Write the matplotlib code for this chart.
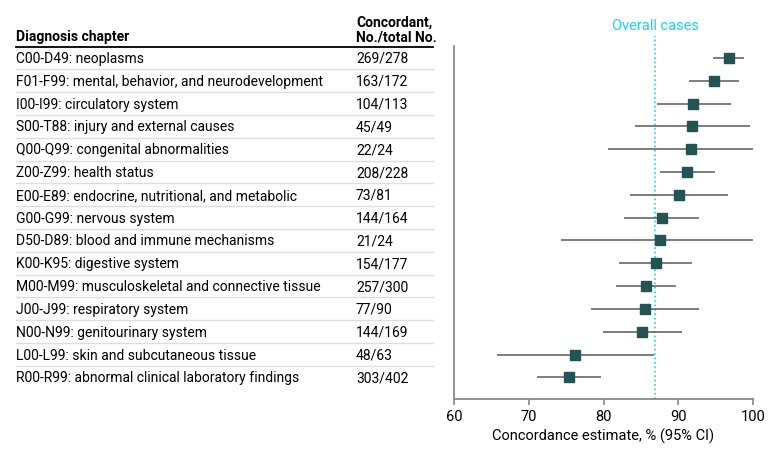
import numpy as np
import matplotlib.pyplot as plt
from matplotlib.transforms import blended_transform_factory

plt.rcParams['font.family'] = ['Roboto', 'DejaVu Sans']

chapters = ['C00-D49: neoplasms',
            'F01-F99: mental, behavior, and neurodevelopment',
            'I00-I99: circulatory system',
            'S00-T88: injury and external causes',
            'Q00-Q99: congenital abnormalities',
            'Z00-Z99: health status',
            'E00-E89: endocrine, nutritional, and metabolic',
            'G00-G99: nervous system',
            'D50-D89: blood and immune mechanisms',
            'K00-K95: digestive system',
            'M00-M99: musculoskeletal and connective tissue',
            'J00-J99: respiratory system',
            'N00-N99: genitourinary system',
            'L00-L99: skin and subcutaneous tissue',
            'R00-R99: abnormal clinical laboratory findings']
concordant = [269, 163, 104, 45, 22, 208, 73, 144, 21, 154, 257, 77, 144, 48, 303]
total = [278, 172, 113, 49, 24, 228, 81, 164, 24, 177, 300, 90, 169, 63, 402]
ci_low = [94.7, 91.5, 87.1, 84.2, 80.6, 87.6, 83.6, 82.8, 74.3, 82.1, 81.7, 78.3, 79.9, 65.7, 71.1]
ci_high = [98.8, 98.1, 97.0, 99.6, 100.0, 94.9, 96.6, 92.8, 100.0, 91.9, 89.7, 92.8, 90.5, 86.7, 79.6]
overall = 86.9

est = 100 * np.array(concordant) / np.array(total)
y = np.arange(len(chapters))

fig = plt.figure(figsize=(7.8, 4.52), dpi=100)
ax = fig.add_axes([454/780, 1-400/452, 299/780, 353/452])

# CI lines + square estimates
ax.hlines(y, ci_low, ci_high, color='#5a5a5a', lw=1.1, zorder=2)
ax.plot(est, y, 's', color='#245354', ms=7, zorder=3)

# overall reference line
ax.plot([overall, overall], [14.95, -0.97], ls=':', color='#19d3e6', lw=1.2, clip_on=False, zorder=1)
ax.text(overall, -1.43, 'Overall cases', color='#19d3e6', ha='center', va='center', fontsize=10.5)

ax.set_xlim(60, 100)
ax.set_ylim(14.95, -0.526)
ax.set_xticks([60, 70, 80, 90, 100])
ax.set_yticks([])
ax.tick_params(axis='x', colors='#888888', labelcolor='black', labelsize=10.5, length=4, width=1.2)
for s in ['top', 'right']:
    ax.spines[s].set_visible(False)
for s in ['left', 'bottom']:
    ax.spines[s].set_color('#888888')
    ax.spines[s].set_linewidth(1.3)
ax.set_xlabel('Concordance estimate, % (95% CI)', fontsize=10.5, labelpad=3)

# table on the left
tr = blended_transform_factory(fig.transFigure, ax.transData)
x1 = 16/780
x2 = 356/780
xe = 433/780
for i in range(len(chapters)):
    ax.text(x1, y[i], chapters[i], transform=tr, ha='left', va='center', fontsize=10)
    ax.text(x2, y[i], f'{concordant[i]}/{total[i]}', transform=tr, ha='left', va='center', fontsize=10)
    if i < len(chapters) - 1:
        ax.plot([x1, xe], [y[i] + 0.5, y[i] + 0.5], transform=tr, color='#dddddd', lw=1, clip_on=False)
ax.plot([x1, xe], [-0.5, -0.5], transform=tr, color='black', lw=1.3, clip_on=False)
ax.text(x1, -0.96, 'Diagnosis chapter', transform=tr, ha='left', va='center', fontsize=10, fontweight='bold')
ax.text(x2, -1.58, 'Concordant,', transform=tr, ha='left', va='center', fontsize=10, fontweight='bold')
ax.text(x2, -0.94, 'No./total No.', transform=tr, ha='left', va='center', fontsize=10, fontweight='bold')

fig.savefig('out.png', dpi=100)
